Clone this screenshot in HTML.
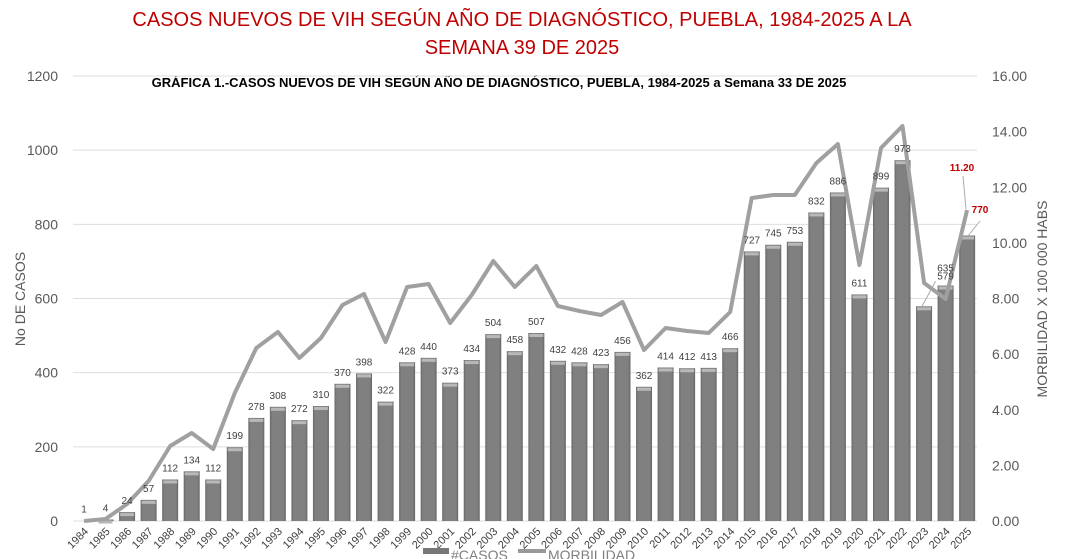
<!DOCTYPE html>
<html><head><meta charset="utf-8"><style>
html,body{margin:0;padding:0;background:#fff;width:1069px;height:559px;overflow:hidden}
svg{display:block;font-family:"Liberation Sans",sans-serif}
</style></head><body>
<svg id="c" width="1069" height="559" viewBox="0 0 1069 559" xmlns="http://www.w3.org/2000/svg">
<defs>
<linearGradient id="bg" x1="0" x2="1" y1="0" y2="0">
<stop offset="0" stop-color="#6a6a6a"/><stop offset="0.15" stop-color="#808080"/><stop offset="0.85" stop-color="#808080"/><stop offset="1" stop-color="#666"/>
</linearGradient>
</defs>
<text x="522" y="26" text-anchor="middle" font-size="20" fill="#c00000">CASOS NUEVOS DE VIH SEGÚN AÑO DE DIAGNÓSTICO, PUEBLA, 1984-2025 A LA</text>
<text x="522" y="54" text-anchor="middle" font-size="20" fill="#c00000">SEMANA 39 DE 2025</text>
<text x="499" y="87" text-anchor="middle" font-size="13" font-weight="bold" fill="#000">GRÁFICA 1.-CASOS NUEVOS DE VIH SEGÚN AÑO DE DIAGNÓSTICO, PUEBLA, 1984-2025 a Semana 33 DE 2025</text>
<g id="g"></g>
</svg>
<script>
var g=document.getElementById('g'),s='';
var cases=[1,4,24,57,112,134,112,199,278,308,272,310,370,398,322,428,440,373,434,504,458,507,432,428,423,456,362,414,412,413,466,727,745,753,832,886,611,899,973,579,635,770];
var ly=[521,519,504,481,446,433,449,393,348,332,358,338,305,294,342,287,284,323,295,261,287,266,306,311,315,302,350,328,331,333,312,198,195,195,163,144,265,148,126,283,299,210];
function X(i){return 84+i*21.54}
function Y(v){return 521-v*0.37083}
for(var k=0;k<=6;k++){var y=521-k*74.17;
 s+='<line x1="73" x2="977" y1="'+y+'" y2="'+y+'" stroke="#dedede" stroke-width="1"/>';
 s+='<text x="58" y="'+(y+5)+'" text-anchor="end" font-size="14" fill="#595959">'+(k*200)+'</text>';}
for(var k=0;k<=8;k++){var y=521-k*55.625;
 s+='<text x="992" y="'+(y+5)+'" font-size="14" fill="#595959">'+(k*2).toFixed(2)+'</text>';}
s+='<text transform="translate(25,299) rotate(-90)" text-anchor="middle" font-size="14" fill="#595959">No DE CASOS</text>';
s+='<text transform="translate(1047,299) rotate(-90)" text-anchor="middle" font-size="14" fill="#595959">MORBILIDAD X 100 000 HABS</text>';
for(var i=0;i<42;i++){var x=X(i),yt=Y(cases[i]);
 if(cases[i]>2){s+='<rect x="'+(x-8)+'" y="'+yt+'" width="16" height="'+(521-yt)+'" fill="url(#bg)"/>';
 s+='<rect x="'+(x-7)+'" y="'+(yt+1)+'" width="14" height="3" fill="#b8b8b8"/>';}
 var yr=1984+i;
 s+='<text transform="translate('+(x+5)+',532) rotate(-45)" text-anchor="end" font-size="11" fill="#404040">'+yr+'</text>';
}
var p='';for(var i=0;i<42;i++)p+=(i?'L':'M')+X(i).toFixed(1)+' '+ly[i];
s+='<path d="'+p+'" fill="none" stroke="#a0a0a0" stroke-width="4" stroke-linejoin="round"/>';
for(var i=0;i<41;i++){var x=X(i),yt=Y(cases[i]);var ty=yt-8,tx=x;
 if(i==39){tx=X(40);ty=Y(cases[i])-30+3;s+='<line x1="'+(tx-10)+'" y1="'+(ty+2)+'" x2="'+(x-2)+'" y2="'+(yt)+'" stroke="#aaa"/>';}
 if(i==40){ty=Y(cases[i])-14;}
 s+='<text x="'+tx+'" y="'+ty+'" text-anchor="middle" font-size="10" fill="#404040">'+cases[i]+'</text>';}
s+='<line x1="963" y1="176" x2="966" y2="209" stroke="#aaa"/><line x1="980" y1="221" x2="968" y2="236" stroke="#aaa"/>';
s+='<text x="962" y="171" text-anchor="middle" font-size="10" font-weight="bold" fill="#c00000">11.20</text>';
s+='<text x="980" y="213" text-anchor="middle" font-size="10" font-weight="bold" fill="#c00000">770</text>';
s+='<rect x="423" y="548" width="26" height="6" fill="#777"/><text x="451" y="560" font-size="14" fill="#808080">#CASOS</text>';
s+='<line x1="518" y1="551" x2="546" y2="551" stroke="#999" stroke-width="4"/><text x="548" y="560" font-size="14" fill="#808080">MORBILIDAD</text>';
g.innerHTML=s;
</script>
</body></html>
